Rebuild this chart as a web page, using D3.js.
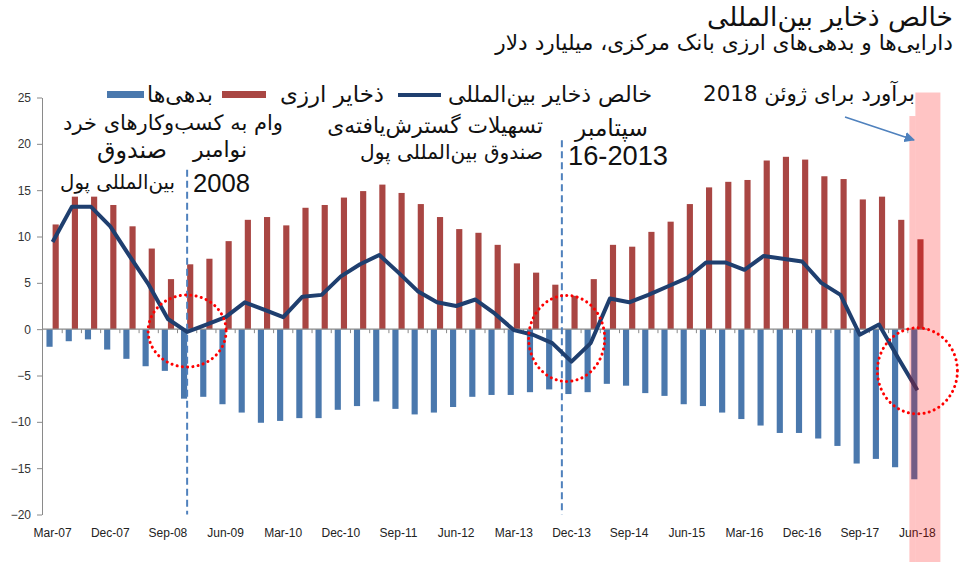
<!DOCTYPE html>
<html>
<head>
<meta charset="utf-8">
<script src="https://cdn.jsdelivr.net/npm/d3@7"></script>
<style>
  body { margin: 0; background: #fff; }
  svg { display: block; }
</style>
</head>
<body>
<div id="chart"></div>
<script>
// quarterly categories
const quarters = [
  'Mar-07','Jun-07','Sep-07','Dec-07','Mar-08','Jun-08','Sep-08','Dec-08',
  'Mar-09','Jun-09','Sep-09','Dec-09','Mar-10','Jun-10','Sep-10','Dec-10',
  'Mar-11','Jun-11','Sep-11','Dec-11','Mar-12','Jun-12','Sep-12','Dec-12',
  'Mar-13','Jun-13','Sep-13','Dec-13','Mar-14','Jun-14','Sep-14','Dec-14',
  'Mar-15','Jun-15','Sep-15','Dec-15','Mar-16','Jun-16','Sep-16','Dec-16',
  'Mar-17','Jun-17','Sep-17','Dec-17','Mar-18','Jun-18'
];
const tickLabels = ['Mar-07','Dec-07','Sep-08','Jun-09','Mar-10','Dec-10','Sep-11','Jun-12',
  'Mar-13','Dec-13','Sep-14','Jun-15','Mar-16','Dec-16','Sep-17','Jun-18'];
const yTicks = [25, 20, 15, 10, 5, 0, -5, -10, -15, -20];

// foreign exchange reserves (red)
const assets = [11.3, 14.3, 14.3, 13.4, 11.1, 8.7, 5.4, 7.0, 7.6, 9.5, 11.8, 12.1, 11.2, 13.1, 13.4, 14.2,
  14.9, 15.6, 14.7, 13.5, 12.1, 10.8, 10.4, 9.1, 7.1, 6.1, 4.8, 3.6, 5.4, 9.1, 8.9, 10.5,
  11.6, 13.5, 15.3, 15.9, 16.1, 18.2, 18.6, 18.3, 16.5, 16.2, 14.0, 14.3, 11.8, 9.7];
// liabilities (blue)
const liabilities = [-1.9, -1.3, -1.1, -2.2, -3.2, -4.0, -4.5, -7.5, -7.3, -8.1, -9.0, -10.1, -9.9, -9.6, -9.6, -8.7,
  -8.3, -7.8, -8.6, -9.2, -9.0, -8.4, -7.3, -7.1, -7.1, -6.8, -6.5, -7.0, -6.8, -5.9, -6.1, -6.9,
  -7.2, -8.1, -8.3, -9.0, -9.7, -10.4, -11.2, -11.2, -11.8, -12.6, -14.5, -14.0, -14.9, -16.2];
// net international reserves (line)
const netReserves = [9.4, 13.2, 13.2, 11.1, 7.9, 4.8, 1.1, -0.3, 0.5, 1.3, 2.9, 2.1, 1.3, 3.5, 3.7, 5.7,
  7.0, 8.0, 6.1, 4.1, 2.9, 2.5, 3.2, 1.7, -0.1, -0.6, -1.5, -3.5, -1.5, 3.3, 2.9, 3.7,
  4.6, 5.5, 7.2, 7.2, 6.4, 7.9, 7.6, 7.3, 5.0, 3.7, -0.6, 0.5, -3.1, -6.6];

const seriesNames = ['خالص ذخایر بین‌المللی', 'ذخایر ارزی', 'بدهی‌ها'];

// event markers: fractional category index, top value
const events = [
  { idx: 7, top: 17.2 },
  { idx: 26.5, top: 20.4 }
];
// highlighted turning points: index, value, radii
const highlights = [
  { idx: 7, val: -0.2, rx: 39, ry: 36 },
  { idx: 26.75, val: -1.0, rx: 38, ry: 43 },
  { idx: 45, val: -4.5, rx: 40, ry: 43 }
];

const width = 960, height = 562;
const RED = '#A94643', BLUE = '#4A78AD', NAVY = '#1F3F6F', AXIS = '#8a8a8a';
const FA = '"DejaVu Sans", sans-serif';

const svg = d3.select('#chart').append('svg')
  .attr('width', width)
  .attr('height', height);

const x = d3.scaleBand()
  .domain(quarters)
  .range([43, 927])
  .paddingInner(0.36)
  .paddingOuter(0.18);

const xSub = d3.scaleBand()
  .domain(['liab', 'asset'])
  .range([0, x.bandwidth()]);

const y = d3.scaleLinear()
  .domain([-20, 25])
  .range([514.5, 97.5]);

const step = x.step();
const xc = i => x.range()[0] + (i + 0.5) * step;

// y axis
const yAxis = svg.append('g')
  .attr('transform', 'translate(42,0)')
  .call(d3.axisLeft(y).tickValues(yTicks).tickSize(5).tickSizeOuter(0));
yAxis.select('.domain').attr('stroke', AXIS);
yAxis.selectAll('.tick line').attr('stroke', AXIS);
yAxis.selectAll('.tick text')
  .attr('x', -11)
  .attr('fill', '#333')
  .style('font-family', '"Liberation Sans", Arial, sans-serif')
  .style('font-size', '12px');

// bars
const groups = svg.append('g')
  .selectAll('g')
  .data(quarters)
  .join('g')
  .attr('transform', d => `translate(${x(d)},0)`);

groups.append('rect')
  .attr('x', xSub('liab'))
  .attr('width', xSub.bandwidth())
  .attr('y', y(0))
  .attr('height', (d, i) => y(liabilities[i]) - y(0))
  .attr('fill', BLUE);

groups.append('rect')
  .attr('x', xSub('asset'))
  .attr('width', xSub.bandwidth())
  .attr('y', (d, i) => y(assets[i]))
  .attr('height', (d, i) => y(0) - y(assets[i]))
  .attr('fill', RED);

// zero axis with ticks at category boundaries
const zeroAxis = svg.append('g')
  .attr('transform', `translate(0,${y(0)})`);
zeroAxis.append('line')
  .attr('x1', 42).attr('x2', 927)
  .attr('stroke', AXIS).attr('stroke-width', 1.2);
zeroAxis.selectAll('line.tk')
  .data(d3.range(1, quarters.length))
  .join('line')
  .attr('class', 'tk')
  .attr('x1', i => x.range()[0] + i * step)
  .attr('x2', i => x.range()[0] + i * step)
  .attr('y1', 0).attr('y2', 4)
  .attr('stroke', AXIS);

// x tick labels
svg.append('g')
  .selectAll('text')
  .data(tickLabels)
  .join('text')
  .attr('x', d => x(d) + x.bandwidth() / 2)
  .attr('y', 537)
  .attr('text-anchor', 'middle')
  .style('font-family', '"Liberation Sans", Arial, sans-serif')
  .style('font-size', '12px')
  .attr('fill', '#222')
  .text(d => d);

// event dashed lines
svg.append('g')
  .selectAll('line')
  .data(events)
  .join('line')
  .attr('x1', d => xc(d.idx)).attr('x2', d => xc(d.idx))
  .attr('y1', d => y(d.top)).attr('y2', y(-20))
  .attr('stroke', '#4F81BD')
  .attr('stroke-width', 2)
  .attr('stroke-dasharray', '7,4');

// net reserves line
const line = d3.line()
  .x((d, i) => xc(i))
  .y(d => y(d));

svg.append('path')
  .datum(netReserves)
  .attr('fill', 'none')
  .attr('stroke', NAVY)
  .attr('stroke-width', 4)
  .attr('stroke-linejoin', 'round')
  .attr('d', line);

// estimate band for Jun-18
const last = quarters.length - 1;
const band = svg.append('g').attr('fill', '#ff0000').attr('fill-opacity', 0.23);
band.append('rect')
  .attr('x', xc(last) - 2).attr('y', y(25) - 5)
  .attr('width', 25).attr('height', height - y(25) + 5);
band.append('rect')
  .attr('x', xc(last) - 8).attr('y', y(23))
  .attr('width', 6).attr('height', height - y(23));

// dotted circles
svg.append('g')
  .selectAll('ellipse')
  .data(highlights)
  .join('ellipse')
  .attr('cx', d => xc(d.idx))
  .attr('cy', d => y(d.val))
  .attr('rx', d => d.rx)
  .attr('ry', d => d.ry)
  .attr('fill', 'none')
  .attr('stroke', '#ff0000')
  .attr('stroke-width', 3)
  .attr('stroke-linecap', 'round')
  .attr('stroke-dasharray', '0.1,5.2');

// arrow to estimate band
svg.append('defs').append('marker')
  .attr('id', 'arr')
  .attr('viewBox', '0 0 10 10')
  .attr('refX', 9).attr('refY', 5)
  .attr('markerWidth', 7).attr('markerHeight', 7)
  .attr('orient', 'auto')
  .append('path')
  .attr('d', 'M0,0L10,5L0,10z')
  .attr('fill', '#4F81BD');

svg.append('line')
  .attr('x1', 845).attr('y1', 117)
  .attr('x2', 914).attr('y2', 140)
  .attr('stroke', '#4F81BD')
  .attr('stroke-width', 1.5)
  .attr('marker-end', 'url(#arr)');

// text helper: right-aligned, fitted to a target width
function label(str, right, base, size, w, family) {
  const t = svg.append('text')
    .attr('x', right)
    .attr('y', base)
    .attr('text-anchor', 'end')
    .attr('font-size', size)
    .style('font-family', family || FA)
    .attr('fill', '#111')
    .text(str);
  if (w) {
    const L = t.node().getComputedTextLength();
    t.attr('font-size', size * w / L);
  }
  return t;
}

// title
label('خالص ذخایر بین‌المللی', 953, 26, 22, 246);
label('دارایی‌ها و بدهی‌های ارزی بانک مرکزی، میلیارد دلار', 953, 50, 18, 458);

// legend
label(seriesNames[0], 652, 102, 17, 204);
svg.append('line')
  .attr('x1', 398).attr('x2', 441)
  .attr('y1', 95).attr('y2', 95)
  .attr('stroke', NAVY).attr('stroke-width', 4);
label(seriesNames[1], 384, 102, 17, 104);
svg.append('rect')
  .attr('x', 222).attr('y', 91).attr('width', 44).attr('height', 7)
  .attr('fill', RED);
label(seriesNames[2], 213, 102, 17, 66);
svg.append('rect')
  .attr('x', 107).attr('y', 91).attr('width', 37).attr('height', 7)
  .attr('fill', BLUE);

// annotations
label('برآورد برای ژوئن 2018', 915, 101, 19, 212);
label('سپتامبر', 648, 136, 18, 73);
label('16-2013', 668, 165, 24, 100, '"Liberation Sans", Arial, sans-serif');
label('تسهیلات گسترش‌یافته‌ی', 543, 133, 19, 216);
label('صندوق بین‌المللی پول', 543, 159, 19, 183);
label('وام به کسب‌وکارهای خرد', 283, 130, 19, 220);
label('صندوق', 167, 158, 19, 70);
label('نوامبر', 247, 157, 18, 54);
label('بین‌المللی پول', 175, 189, 19, 115);
label('2008', 250, 192, 22, 57, '"Liberation Sans", Arial, sans-serif');
</script>
</body>
</html>
